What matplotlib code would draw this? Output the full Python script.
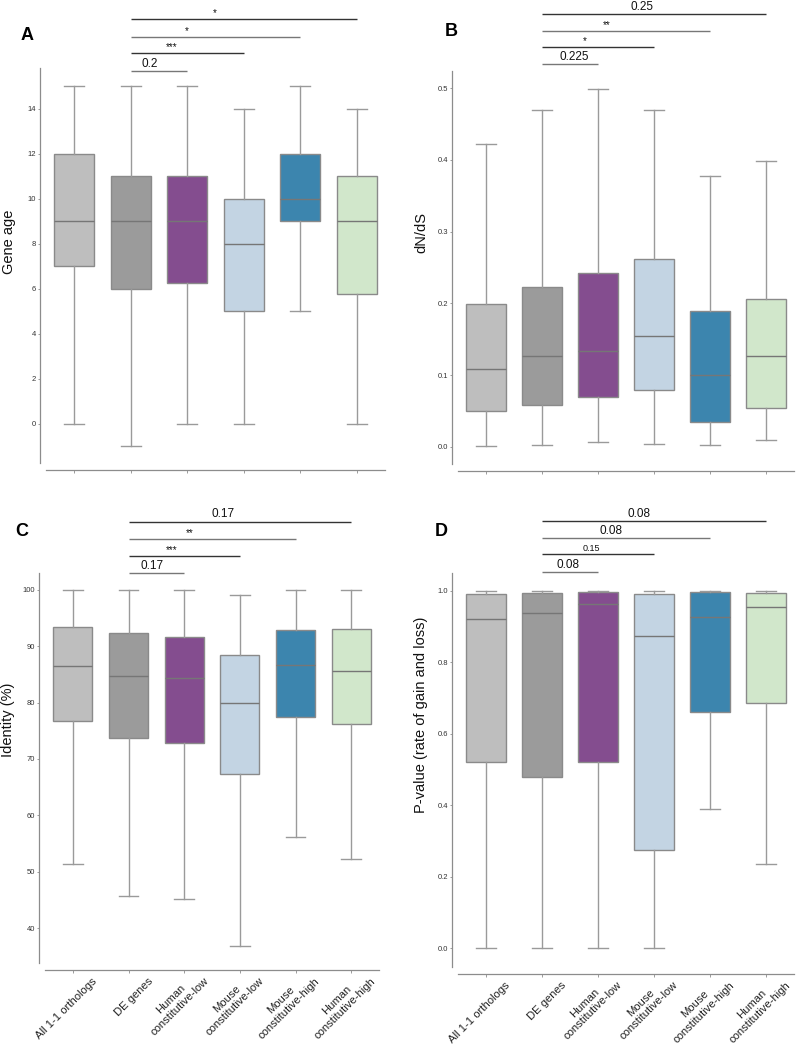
import matplotlib
matplotlib.use("Agg")
import matplotlib.pyplot as plt
import matplotlib.transforms as mtransforms

plt.rcParams['font.family'] = ['Liberation Sans', 'DejaVu Sans']

# ---------------- data ----------------
categories = ["All 1-1 orthologs", "DE genes", "Human\nconstitutive-low",
              "Mouse\nconstitutive-low", "Mouse\nconstitutive-high",
              "Human\nconstitutive-high"]
box_colors = ["#bebebe", "#9b9b9b", "#844d8f", "#c3d4e3", "#3c85ae", "#d1e7cb"]

# Panel A: gene age
age_whislo = [0, -1, 0, 0, 5, 0]
age_q1 = [7, 6, 6.25, 5, 9, 5.75]
age_med = [9, 9, 9, 8, 10, 9]
age_q3 = [12, 11, 11, 10, 12, 11]
age_whishi = [15, 15, 15, 14, 15, 14]
age_sig = ["0.2", "***", "*", "*"]

# Panel B: dN/dS
dnds_whislo = [0.001, 0.002, 0.006, 0.004, 0.003, 0.010]
dnds_q1 = [0.050, 0.058, 0.069, 0.079, 0.035, 0.054]
dnds_med = [0.109, 0.126, 0.133, 0.154, 0.100, 0.127]
dnds_q3 = [0.199, 0.223, 0.243, 0.262, 0.190, 0.206]
dnds_whishi = [0.422, 0.470, 0.499, 0.470, 0.378, 0.398]
dnds_sig = ["0.225", "*", "**", "0.25"]

# Panel C: identity (%)
ident_whislo = [51.3, 45.7, 45.1, 36.8, 56.2, 52.3]
ident_q1 = [76.7, 73.7, 72.8, 67.3, 77.5, 76.2]
ident_med = [86.5, 84.7, 84.4, 79.9, 86.7, 85.6]
ident_q3 = [93.5, 92.3, 91.6, 88.4, 92.8, 93.1]
ident_whishi = [100, 100, 100, 99.1, 100, 100]
ident_sig = ["0.17", "***", "**", "0.17"]

# Panel D: P-value (rate of gain and loss)
pval_whislo = [0.0, 0.0, 0.0, 0.0, 0.389, 0.235]
pval_q1 = [0.521, 0.480, 0.520, 0.275, 0.662, 0.685]
pval_med = [0.921, 0.938, 0.962, 0.873, 0.926, 0.954]
pval_q3 = [0.991, 0.994, 0.996, 0.991, 0.997, 0.994]
pval_whishi = [1.0, 1.0, 1.0, 1.0, 1.0, 1.0]
pval_sig = ["0.08", "0.15", "0.08", "0.08"]

sig_pairs = [(1, 2), (1, 3), (1, 4), (1, 5)]

# ---------------- layout ----------------
W, H = 797, 1050
fig = plt.figure(figsize=(W / 100, H / 100), dpi=100)


def rect(left, right, top, bottom):
    return [left / W, 1 - bottom / H, (right - left) / W, (bottom - top) / H]


panels = [
    dict(stats=(age_whislo, age_q1, age_med, age_q3, age_whishi), sig=age_sig,
         rect=rect(46, 385, 68, 463), ylim=(-1.75, 15.8), yticks=range(0, 15, 2),
         ylabel="Gene age", ylab_y=0.56, letter="A", letter_xy=(27, 35),
         sig_y=[0.992, 1.038, 1.078, 1.124], sig_tx=[1.33, 1.72, 2.0, 2.48],
         xlabels=False),
    dict(stats=(dnds_whislo, dnds_q1, dnds_med, dnds_q3, dnds_whishi), sig=dnds_sig,
         rect=rect(458, 794, 71, 464), ylim=(-0.024, 0.524),
         yticks=[0.0, 0.1, 0.2, 0.3, 0.4, 0.5],
         ylabel="dN/dS", ylab_y=0.588, letter="B", letter_xy=(451, 31),
         sig_y=[1.018, 1.061, 1.102, 1.145], sig_tx=[1.57, 1.77, 2.16, 2.79],
         xlabels=False),
    dict(stats=(ident_whislo, ident_q1, ident_med, ident_q3, ident_whishi), sig=ident_sig,
         rect=rect(45, 379, 573, 963), ylim=(33.8, 103.0), yticks=range(40, 101, 10),
         ylabel="Identity (%)", ylab_y=0.623, letter="C", letter_xy=(22, 532),
         sig_y=[1.0, 1.044, 1.087, 1.132], sig_tx=[1.43, 1.77, 2.1, 2.7],
         xlabels=True),
    dict(stats=(pval_whislo, pval_q1, pval_med, pval_q3, pval_whishi), sig=pval_sig,
         rect=rect(458, 794, 573, 967), ylim=(-0.053, 1.05),
         yticks=[0.0, 0.2, 0.4, 0.6, 0.8, 1.0],
         ylabel="P-value (rate of gain and loss)", ylab_y=0.64, letter="D",
         letter_xy=(441, 531),
         sig_y=[1.0025, 1.048, 1.089, 1.132], sig_tx=[1.46, 1.88, 2.23, 2.73],
         xlabels=True),
]

spine_c = "#8c8c8c"
sig_colors = ["#777777", "#333333", "#777777", "#333333"]

for p in panels:
    ax = fig.add_axes(p["rect"])
    wl, q1, md, q3, wh = p["stats"]
    stats = [dict(med=md[k], q1=q1[k], q3=q3[k], whislo=wl[k], whishi=wh[k], fliers=[])
             for k in range(len(categories))]
    bp = ax.bxp(stats, positions=range(len(categories)), widths=0.7,
                patch_artist=True, showfliers=False, manage_ticks=False,
                boxprops=dict(edgecolor="#8a8a8a", linewidth=1.0),
                medianprops=dict(color="#767676", linewidth=1.0),
                whiskerprops=dict(color="#9a9a9a", linewidth=1.0),
                capprops=dict(color="#9a9a9a", linewidth=1.0))
    for patch, c in zip(bp["boxes"], box_colors):
        patch.set_facecolor(c)

    ax.set_xlim(-0.5, len(categories) - 0.5)
    ax.set_ylim(*p["ylim"])
    ax.set_yticks(list(p["yticks"]))
    ax.set_xticks(range(len(categories)))
    ax.set_xticklabels([])
    for s in ("top", "right"):
        ax.spines[s].set_visible(False)
    ax.spines["left"].set_position(("outward", 4.3))
    ax.spines["bottom"].set_position(("outward", 4.8))
    for s in ("left", "bottom"):
        ax.spines[s].set_color(spine_c)
        ax.spines[s].set_linewidth(0.9)
    ax.tick_params(axis="y", length=1.5, width=0.6, color=spine_c, pad=1.5,
                   labelsize=5.5, labelcolor="#333333")
    ax.tick_params(axis="x", length=2.0, width=0.6, color=spine_c, pad=0)

    if p["xlabels"]:
        trx = mtransforms.blended_transform_factory(ax.transData, ax.transAxes)
        off = mtransforms.ScaledTranslation(0.26, -0.20, fig.dpi_scale_trans)
        for k, lab in enumerate(categories):
            ax.text(k, 0, lab, transform=trx + off, rotation=45, ha="right",
                    va="bottom", rotation_mode="anchor", multialignment="center",
                    fontsize=8.1, color="#222222", clip_on=False)

    ax.set_ylabel(p["ylabel"], fontsize=10.5, color="#111111")
    ax.yaxis.set_label_coords(-30 / (p["rect"][2] * W), p["ylab_y"])

    # panel letter
    lx, ly = p["letter_xy"]
    fig.text(lx / W, 1 - ly / H, p["letter"], fontsize=13, fontweight="bold",
             ha="center", va="center")

    # significance bars
    tr = mtransforms.blended_transform_factory(ax.transData, ax.transAxes)
    for k, ((i, j), lab) in enumerate(zip(sig_pairs, p["sig"])):
        y = p["sig_y"][k]
        ax.plot([i, j], [y, y], transform=tr, color=sig_colors[k], lw=1.0,
                clip_on=False, solid_capstyle="butt")
        is_star = lab.startswith("*")
        fs = 7 if is_star else (6.5 if lab == "0.15" else 8.5)
        toff = mtransforms.ScaledTranslation(0, (0.5 if is_star else 1.0) / 72,
                                             fig.dpi_scale_trans)
        ax.text(p["sig_tx"][k], y, lab, transform=tr + toff, ha="center",
                va="bottom", fontsize=fs, color="#111111", clip_on=False)

fig.savefig("out.png", dpi=100)
